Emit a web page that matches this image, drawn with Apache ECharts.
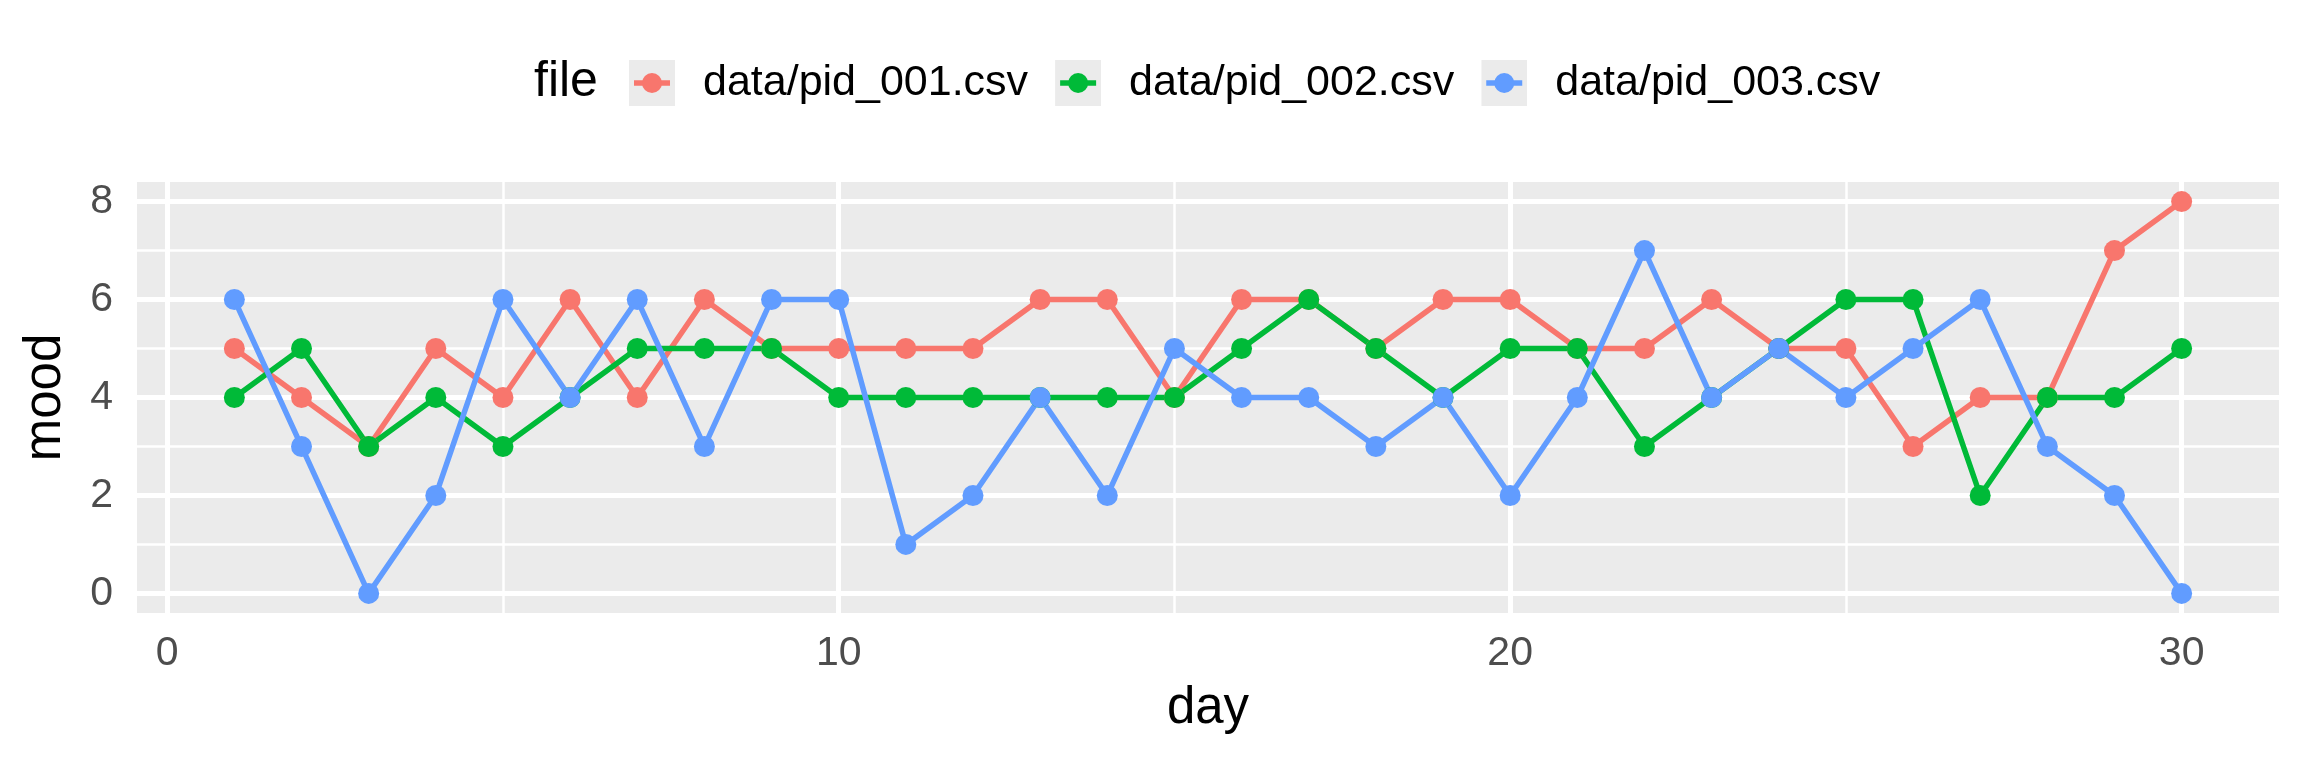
<!DOCTYPE html>
<html>
<head>
<meta charset="utf-8">
<title>mood by day</title>
<script src="https://cdn.jsdelivr.net/npm/echarts@6/dist/echarts.min.js"></script>
<style>
  html, body { margin: 0; padding: 0; background: #fff; }
  #main { width: 2304px; height: 768px; }
</style>
</head>
<body>
<div id="main"></div>
<script>
// data
var days = [1,2,3,4,5,6,7,8,9,10,11,12,13,14,15,16,17,18,19,20,21,22,23,24,25,26,27,28,29,30];
var pid001 = [5,4,3,5,4,6,4,6,5,5,5,5,6,6,4,6,6,5,6,6,5,5,6,5,5,3,4,4,7,8];
var pid002 = [4,5,3,4,3,4,5,5,5,4,4,4,4,4,4,5,6,5,4,5,5,3,4,5,6,6,2,4,4,5];
var pid003 = [6,3,0,2,6,4,6,3,6,6,1,2,4,2,5,4,4,3,4,2,4,7,4,5,4,5,6,3,2,0];
var fileNames = ['data/pid_001.csv', 'data/pid_002.csv', 'data/pid_003.csv'];
var colors = ['#F8766D', '#00BA38', '#619CFF'];
var xTicks = [0, 10, 20, 30];
var xMinor = [5, 15, 25];
var yTicks = [0, 2, 4, 6, 8];
var yMinor = [1, 3, 5, 7];

var FONT = '"Liberation Sans", Arial, sans-serif';

function pairs(vals) {
  return days.map(function (d, i) { return [d, vals[i]]; });
}

function keyIcon(col) {
  var svg = '<svg xmlns="http://www.w3.org/2000/svg" width="46" height="46">' +
    '<rect width="46" height="46" fill="#EBEBEB"/>' +
    '<line x1="5" y1="23" x2="41" y2="23" stroke="' + col + '" stroke-width="5.5"/>' +
    '<circle cx="23" cy="23" r="10" fill="' + col + '"/></svg>';
  return 'image://data:image/svg+xml;charset=utf-8,' + encodeURIComponent(svg);
}

var allVals = [pid001, pid002, pid003];

var gridLines = [];
xTicks.forEach(function (v) { gridLines.push({ xAxis: v, lineStyle: { color: '#fff', width: 5, type: 'solid' } }); });
xMinor.forEach(function (v) { gridLines.push({ xAxis: v, lineStyle: { color: '#fff', width: 2.5, type: 'solid' } }); });
yTicks.forEach(function (v) { gridLines.push({ yAxis: v, lineStyle: { color: '#fff', width: 5, type: 'solid' } }); });
yMinor.forEach(function (v) { gridLines.push({ yAxis: v, lineStyle: { color: '#fff', width: 2.5, type: 'solid' } }); });

var series = [{
  name: 'grid',
  type: 'line',
  data: [],
  z: 1,
  silent: true,
  markLine: {
    z: 1,
    silent: true,
    symbol: 'none',
    label: { show: false },
    animation: false,
    data: gridLines
  }
}];

// lines first, then points (geom_line + geom_point order)
fileNames.forEach(function (n, i) {
  series.push({
    name: n,
    type: 'line',
    data: pairs(allVals[i]),
    showSymbol: false,
    z: 10,
    lineStyle: { color: colors[i], width: 5.5 },
    itemStyle: { color: colors[i] }
  });
});
fileNames.forEach(function (n, i) {
  series.push({
    name: n,
    type: 'scatter',
    data: pairs(allVals[i]),
    symbol: 'circle',
    symbolSize: 21,
    z: 11,
    itemStyle: { color: colors[i], opacity: 1 }
  });
});

var chart = echarts.init(document.getElementById('main'));
chart.setOption({
  animation: false,
  backgroundColor: '#fff',
  title: {
    text: 'file',
    left: 529,
    top: 52,
    textStyle: { fontFamily: FONT, fontSize: 50, fontWeight: 'normal', color: '#000' }
  },
  legend: {
    left: 624,
    top: 55,
    itemWidth: 46,
    itemHeight: 46,
    itemGap: 27,
    selectedMode: false,
    data: fileNames.map(function (n, i) { return { name: n, icon: keyIcon(colors[i]) }; }),
    textStyle: { fontFamily: FONT, fontSize: 43, color: '#000', padding: [0, 0, 0, 23] }
  },
  grid: {
    left: 137,
    right: 25,
    top: 182,
    bottom: 155,
    show: true,
    backgroundColor: '#EBEBEB',
    borderWidth: 0
  },
  xAxis: {
    type: 'value',
    min: -0.45,
    max: 31.45,
    name: 'day',
    nameLocation: 'middle',
    nameGap: 70,
    nameTextStyle: { fontFamily: FONT, fontSize: 51, color: '#000' },
    axisLine: { show: false },
    axisTick: { show: true, length: 12, customValues: xTicks, lineStyle: { color: '#333', width: 4 } },
    axisLabel: { customValues: xTicks, margin: 20, fontFamily: FONT, fontSize: 41, color: '#4D4D4D' },
    splitLine: { show: false }
  },
  yAxis: {
    type: 'value',
    min: -0.4,
    max: 8.4,
    name: 'mood',
    nameLocation: 'middle',
    nameGap: 66,
    nameRotate: 90,
    nameTextStyle: { fontFamily: FONT, fontSize: 51, color: '#000' },
    axisLine: { show: false },
    axisTick: { show: true, length: 12, customValues: yTicks, lineStyle: { color: '#333', width: 4 } },
    axisLabel: { customValues: yTicks, margin: 24, fontFamily: FONT, fontSize: 41, color: '#4D4D4D' },
    splitLine: { show: false }
  },
  series: series
});
</script>
</body>
</html>
